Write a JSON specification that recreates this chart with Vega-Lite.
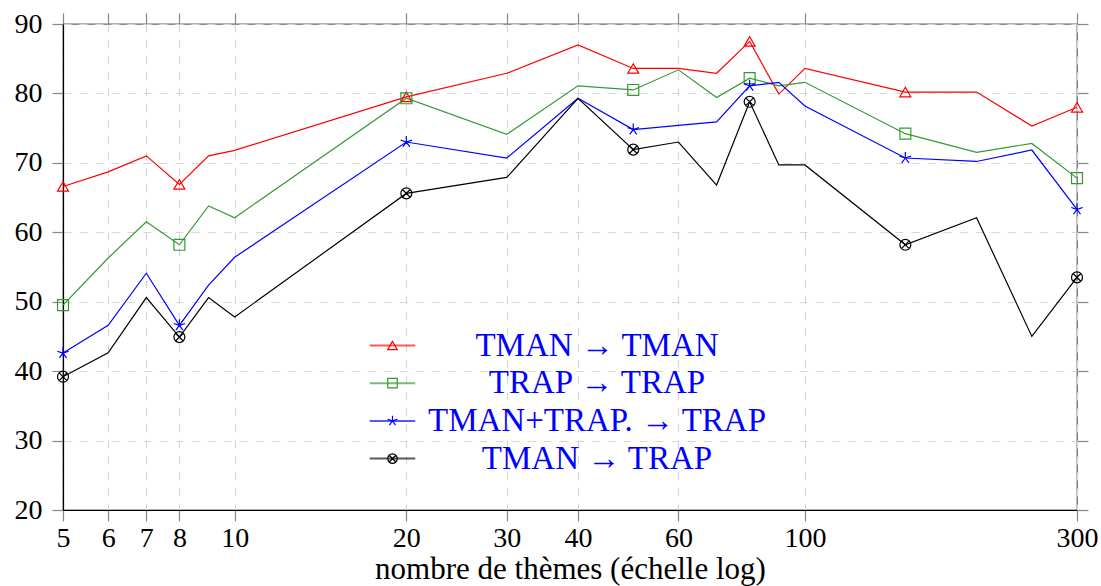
{
  "$schema": "https://vega.github.io/schema/vega-lite/v6.json",
  "width": 1014,
  "height": 486,
  "autosize": {"type": "none"},
  "padding": {"left": 63, "top": 24, "right": 24, "bottom": 76},
  "background": "white",
  "config": {
    "font": "Liberation Serif",
    "view": {"stroke": "#666666", "strokeWidth": 1.3},
    "axis": {"labelFont": "Liberation Serif", "titleFont": "Liberation Serif", "titleFontWeight": "normal", "labelColor": "black", "titleColor": "black"},
    "legend": {"labelFont": "Liberation Serif"}
  },
  "data": {
    "values": [
      {"x": 5, "y": 66.6, "serie": "TMAN → TMAN"},
      {"x": 6, "y": 68.7, "serie": "TMAN → TMAN"},
      {"x": 7, "y": 71.0, "serie": "TMAN → TMAN"},
      {"x": 8, "y": 66.9, "serie": "TMAN → TMAN"},
      {"x": 9, "y": 71.0, "serie": "TMAN → TMAN"},
      {"x": 10, "y": 71.8, "serie": "TMAN → TMAN"},
      {"x": 20, "y": 79.5, "serie": "TMAN → TMAN"},
      {"x": 30, "y": 82.9, "serie": "TMAN → TMAN"},
      {"x": 40, "y": 87.0, "serie": "TMAN → TMAN"},
      {"x": 50, "y": 83.6, "serie": "TMAN → TMAN"},
      {"x": 60, "y": 83.6, "serie": "TMAN → TMAN"},
      {"x": 70, "y": 82.9, "serie": "TMAN → TMAN"},
      {"x": 80, "y": 87.5, "serie": "TMAN → TMAN"},
      {"x": 90, "y": 79.9, "serie": "TMAN → TMAN"},
      {"x": 100, "y": 83.6, "serie": "TMAN → TMAN"},
      {"x": 150, "y": 80.2, "serie": "TMAN → TMAN"},
      {"x": 200, "y": 80.2, "serie": "TMAN → TMAN"},
      {"x": 250, "y": 75.3, "serie": "TMAN → TMAN"},
      {"x": 300, "y": 78.0, "serie": "TMAN → TMAN"},
      {"x": 5, "y": 49.5, "serie": "TRAP → TRAP"},
      {"x": 6, "y": 56.3, "serie": "TRAP → TRAP"},
      {"x": 7, "y": 61.5, "serie": "TRAP → TRAP"},
      {"x": 8, "y": 58.2, "serie": "TRAP → TRAP"},
      {"x": 9, "y": 63.8, "serie": "TRAP → TRAP"},
      {"x": 10, "y": 62.1, "serie": "TRAP → TRAP"},
      {"x": 20, "y": 79.3, "serie": "TRAP → TRAP"},
      {"x": 30, "y": 74.1, "serie": "TRAP → TRAP"},
      {"x": 40, "y": 81.1, "serie": "TRAP → TRAP"},
      {"x": 50, "y": 80.5, "serie": "TRAP → TRAP"},
      {"x": 60, "y": 83.4, "serie": "TRAP → TRAP"},
      {"x": 70, "y": 79.4, "serie": "TRAP → TRAP"},
      {"x": 80, "y": 82.2, "serie": "TRAP → TRAP"},
      {"x": 90, "y": 81.1, "serie": "TRAP → TRAP"},
      {"x": 100, "y": 81.6, "serie": "TRAP → TRAP"},
      {"x": 150, "y": 74.2, "serie": "TRAP → TRAP"},
      {"x": 200, "y": 71.5, "serie": "TRAP → TRAP"},
      {"x": 250, "y": 72.8, "serie": "TRAP → TRAP"},
      {"x": 300, "y": 67.8, "serie": "TRAP → TRAP"},
      {"x": 5, "y": 42.6, "serie": "TMAN+TRAP. → TRAP"},
      {"x": 6, "y": 46.6, "serie": "TMAN+TRAP. → TRAP"},
      {"x": 7, "y": 54.1, "serie": "TMAN+TRAP. → TRAP"},
      {"x": 8, "y": 46.6, "serie": "TMAN+TRAP. → TRAP"},
      {"x": 9, "y": 52.4, "serie": "TMAN+TRAP. → TRAP"},
      {"x": 10, "y": 56.4, "serie": "TMAN+TRAP. → TRAP"},
      {"x": 20, "y": 73.0, "serie": "TMAN+TRAP. → TRAP"},
      {"x": 30, "y": 70.7, "serie": "TMAN+TRAP. → TRAP"},
      {"x": 40, "y": 79.3, "serie": "TMAN+TRAP. → TRAP"},
      {"x": 50, "y": 74.8, "serie": "TMAN+TRAP. → TRAP"},
      {"x": 60, "y": 75.4, "serie": "TMAN+TRAP. → TRAP"},
      {"x": 70, "y": 75.9, "serie": "TMAN+TRAP. → TRAP"},
      {"x": 80, "y": 81.1, "serie": "TMAN+TRAP. → TRAP"},
      {"x": 90, "y": 81.6, "serie": "TMAN+TRAP. → TRAP"},
      {"x": 100, "y": 78.2, "serie": "TMAN+TRAP. → TRAP"},
      {"x": 150, "y": 70.7, "serie": "TMAN+TRAP. → TRAP"},
      {"x": 200, "y": 70.2, "serie": "TMAN+TRAP. → TRAP"},
      {"x": 250, "y": 71.85, "serie": "TMAN+TRAP. → TRAP"},
      {"x": 300, "y": 63.3, "serie": "TMAN+TRAP. → TRAP"},
      {"x": 5, "y": 39.2, "serie": "TMAN → TRAP"},
      {"x": 6, "y": 42.65, "serie": "TMAN → TRAP"},
      {"x": 7, "y": 50.6, "serie": "TMAN → TRAP"},
      {"x": 8, "y": 44.9, "serie": "TMAN → TRAP"},
      {"x": 9, "y": 50.6, "serie": "TMAN → TRAP"},
      {"x": 10, "y": 47.8, "serie": "TMAN → TRAP"},
      {"x": 20, "y": 65.6, "serie": "TMAN → TRAP"},
      {"x": 30, "y": 67.9, "serie": "TMAN → TRAP"},
      {"x": 40, "y": 79.3, "serie": "TMAN → TRAP"},
      {"x": 50, "y": 71.9, "serie": "TMAN → TRAP"},
      {"x": 60, "y": 73.0, "serie": "TMAN → TRAP"},
      {"x": 70, "y": 66.8, "serie": "TMAN → TRAP"},
      {"x": 80, "y": 78.8, "serie": "TMAN → TRAP"},
      {"x": 90, "y": 69.7, "serie": "TMAN → TRAP"},
      {"x": 100, "y": 69.7, "serie": "TMAN → TRAP"},
      {"x": 150, "y": 58.2, "serie": "TMAN → TRAP"},
      {"x": 200, "y": 62.1, "serie": "TMAN → TRAP"},
      {"x": 250, "y": 45.0, "serie": "TMAN → TRAP"},
      {"x": 300, "y": 53.5, "serie": "TMAN → TRAP"}
    ]
  },
  "layer": [
    {
      "mark": {"type": "line", "strokeWidth": 1.2},
      "encoding": {
        "x": {
          "field": "x", "type": "quantitative",
          "scale": {"type": "log", "domain": [5, 300]},
          "axis": {
            "orient": "bottom",
            "values": [5, 6, 7, 8, 10, 20, 30, 40, 60, 100, 300],
            "format": "d",
            "title": "nombre de thèmes (échelle log)",
            "titleFontSize": 31, "titleBaseline": "alphabetic", "titleY": 68,
            "labelFontSize": 28, "labelPadding": 3,
            "labelFlush": false, "labelOverlap": false,
            "grid": true, "gridColor": "#d6d6d6", "gridDash": [8, 8], "gridWidth": 1.2,
            "domainColor": "black", "domainWidth": 1.2,
            "tickColor": "#888888", "tickSize": 11, "tickWidth": 1.2
          }
        },
        "y": {
          "field": "y", "type": "quantitative",
          "scale": {"domain": [20, 90], "nice": false, "zero": false},
          "axis": {
            "orient": "left",
            "values": [20, 30, 40, 50, 60, 70, 80, 90],
            "title": null,
            "labelFontSize": 28, "labelPadding": 10,
            "grid": true, "gridColor": "#d6d6d6", "gridDash": [8, 8], "gridWidth": 1.2,
            "domainColor": "black", "domainWidth": 1.2,
            "tickColor": "#888888", "tickSize": 11, "tickWidth": 1.2
          }
        },
        "color": {
          "field": "serie", "type": "nominal",
          "scale": {
            "domain": ["TMAN → TMAN", "TRAP → TRAP", "TMAN+TRAP. → TRAP", "TMAN → TRAP"],
            "range": ["#ff0000", "#339933", "#0000ff", "#000000"]
          },
          "legend": {
            "orient": "none", "legendX": 313, "legendY": 305,
            "title": null, "padding": 0,
            "symbolType": "M-4.8,0L4.8,0", "symbolSize": 90, "symbolStrokeWidth": 2, "symbolOpacity": 0.65,
            "labelFontSize": 33, "labelOpacity": 0, "labelLimit": 0,
            "labelAlign": "center", "labelOffset": 188, "rowPadding": 3.7
          }
        }
      }
    },
    {
      "transform": [{"filter": {"field": "x", "oneOf": [5, 8, 20, 50, 80, 150, 300]}}],
      "mark": {"type": "point", "filled": false, "size": 120, "strokeWidth": 1.2, "opacity": 1},
      "encoding": {
        "x": {
          "field": "x", "type": "quantitative",
          "scale": {"type": "log", "domain": [5, 300]},
          "axis": {
            "orient": "top",
            "values": [5, 6, 7, 8, 10, 20, 30, 40, 60, 100, 300],
            "labels": false, "title": null, "grid": false, "domain": false,
            "tickColor": "#888888", "tickSize": 11, "tickWidth": 1.2
          }
        },
        "y": {
          "field": "y", "type": "quantitative",
          "scale": {"domain": [20, 90], "nice": false, "zero": false},
          "axis": {
            "orient": "right",
            "values": [20, 30, 40, 50, 60, 70, 80, 90],
            "labels": false, "title": null, "grid": false, "domain": false,
            "tickColor": "#888888", "tickSize": 11, "tickWidth": 1.2
          }
        },
        "stroke": {
          "field": "serie", "type": "nominal",
          "scale": {
            "domain": ["TMAN → TMAN", "TRAP → TRAP", "TMAN+TRAP. → TRAP", "TMAN → TRAP"],
            "range": ["#ff0000", "#339933", "#0000ff", "#000000"]
          },
          "legend": {
            "orient": "none", "legendX": 313, "legendY": 305,
            "title": null, "padding": 0,
            "symbolSize": 90, "symbolStrokeWidth": 1.2,
            "labelFontSize": 33, "labelColor": "#0000ff", "labelLimit": 0,
            "labelAlign": "center", "labelOffset": 188, "rowPadding": 3.7
          }
        },
        "shape": {
          "field": "serie", "type": "nominal",
          "scale": {
            "domain": ["TMAN → TMAN", "TRAP → TRAP", "TMAN+TRAP. → TRAP", "TMAN → TRAP"],
            "range": [
              "triangle-up",
              "square",
              "M0,0L0,-1.1M0,0L1.046,-0.34M0,0L0.647,0.89M0,0L-0.647,0.89M0,0L-1.046,-0.34",
              "M-1,0A1,1,0,1,1,1,0A1,1,0,1,1,-1,0ZM-0.707,-0.707L0.707,0.707M-0.707,0.707L0.707,-0.707"
            ]
          },
          "legend": {
            "orient": "none", "legendX": 313, "legendY": 305,
            "title": null, "padding": 0,
            "symbolSize": 90, "symbolStrokeWidth": 1.2,
            "labelFontSize": 33, "labelColor": "#0000ff", "labelLimit": 0,
            "labelAlign": "center", "labelOffset": 188, "rowPadding": 3.7
          }
        }
      }
    }
  ],
  "resolve": {
    "scale": {"color": "independent"},
    "legend": {"color": "independent"},
    "axis": {"x": "independent", "y": "independent"}
  }
}
